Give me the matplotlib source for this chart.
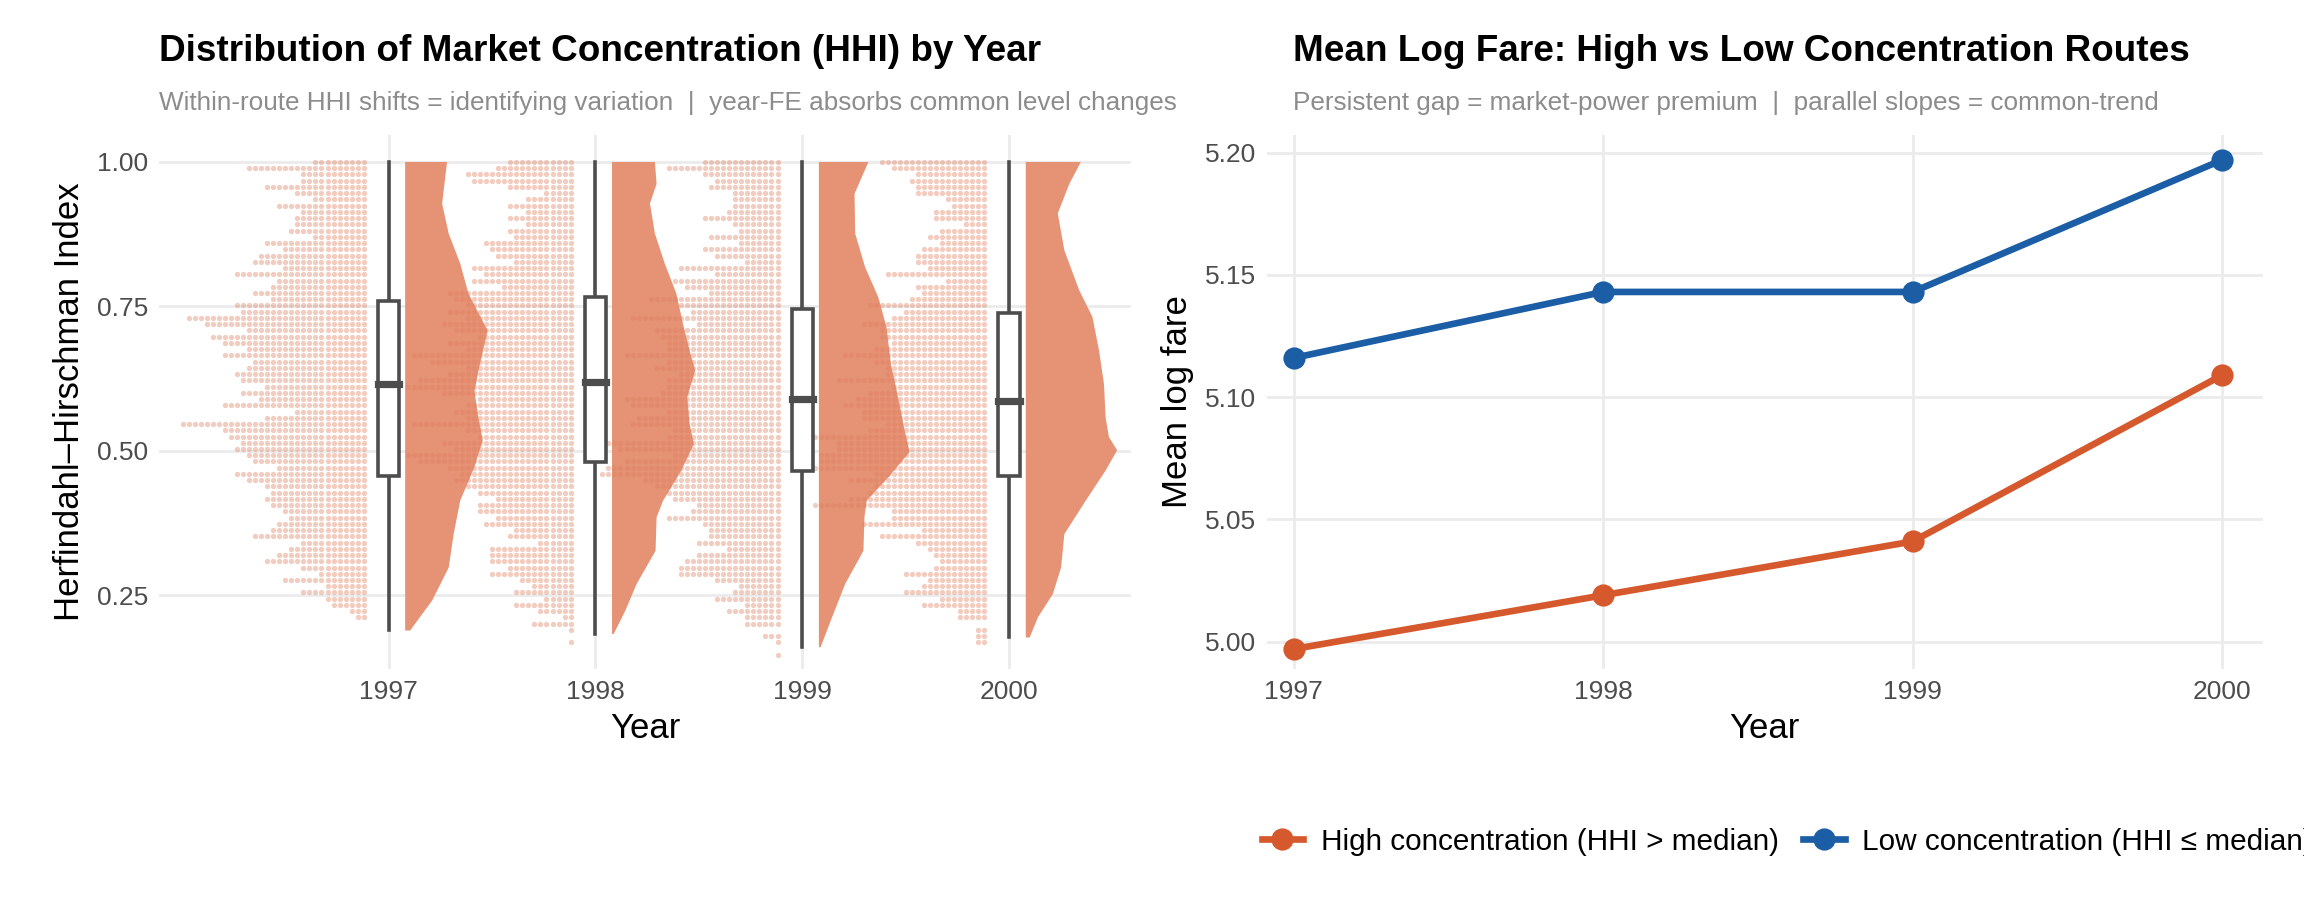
import numpy as np
import matplotlib.pyplot as plt

plt.rcParams['font.family'] = ['Liberation Sans', 'DejaVu Sans']

# -----------------------------------------------------------------------------
# data

years = [1997, 1998, 1999, 2000]

# dot counts per HHI row (rows start at 1.00 and step down by row_step)
row_step = 0.0108
dots_1997 = [9, 20, 11, 11, 17, 12, 9, 15, 11, 12, 12, 13, 9, 17, 14, 18, 19, 14, 22, 15,
             16, 19, 16, 22, 21, 30, 27, 20, 26, 24, 20, 24, 19, 20, 22, 21, 17, 21, 18, 24,
             12, 17, 31, 24, 23, 21, 22, 20, 19, 15, 22, 20, 17, 16, 17, 16, 14, 13, 15, 16,
             19, 11, 13, 15, 17, 11, 8, 14, 7, 11, 7, 6, 3, 2]
dots_1998 = [11, 13, 18, 17, 11, 5, 8, 11, 8, 11, 8, 11, 10, 15, 14, 13, 10, 17, 15, 17,
             12, 21, 20, 18, 21, 18, 22, 20, 16, 21, 18, 27, 24, 18, 21, 26, 28, 22, 16, 18,
             20, 18, 27, 18, 16, 22, 20, 28, 26, 21, 19, 20, 18, 16, 13, 16, 16, 13, 15, 10,
             11, 6, 14, 14, 14, 11, 14, 9, 7, 10, 5, 10, 6, 2, 7, 1, 0, 1]
dots_1999 = [13, 19, 13, 11, 12, 8, 8, 8, 9, 13, 8, 7, 12, 7, 13, 11, 6, 17, 11, 18,
             16, 12, 22, 17, 15, 25, 14, 21, 20, 19, 19, 26, 19, 21, 17, 19, 19, 20, 26, 25,
             19, 24, 25, 18, 19, 30, 27, 18, 26, 29, 30, 23, 21, 19, 18, 14, 15, 19, 13, 12,
             12, 14, 9, 14, 16, 17, 17, 11, 7, 8, 11, 6, 9, 6, 6, 0, 3, 1, 0, 1]
dots_2000 = [18, 16, 12, 13, 12, 12, 7, 6, 9, 9, 4, 8, 10, 8, 11, 12, 12, 10, 17, 7,
             12, 11, 13, 20, 14, 16, 21, 18, 18, 16, 19, 24, 19, 17, 17, 25, 16, 20, 22, 24,
             21, 21, 17, 20, 29, 25, 25, 28, 28, 29, 19, 23, 19, 20, 23, 29, 16, 16, 21, 11,
             18, 12, 10, 9, 8, 9, 14, 10, 11, 14, 8, 11, 5, 5, 0, 2, 2, 2]

# half-violin outlines: HHI value and relative density width
vio_y_1997 = [1.0, .928, .876, .824, .772, .708, .651, .604, .558, .518, .472, .414, .356, .298, .241, .189]
vio_w_1997 = [127, 112, 132, 167, 192, 250, 227, 210, 222, 235, 210, 167, 147, 132, 82, 15]
vio_y_1998 = [1.0, .962, .928, .876, .824, .772, .720, .674, .639, .593, .547, .512, .466, .414, .385, .327, .270, .223, .183]
vio_w_1998 = [130, 135, 115, 130, 160, 195, 215, 235, 252, 228, 235, 248, 210, 155, 135, 132, 75, 40, 5]
vio_y_1999 = [1.0, .945, .876, .818, .766, .714, .651, .593, .535, .498, .454, .414, .385, .327, .270, .212, .160]
vio_w_1999 = [150, 108, 110, 140, 180, 205, 218, 240, 260, 275, 210, 145, 138, 135, 80, 40, 5]
vio_y_2000 = [1.0, .962, .911, .847, .778, .732, .674, .616, .558, .524, .501, .466, .414, .356, .298, .252, .212, .177]
vio_w_2000 = [167, 132, 97, 117, 162, 202, 222, 237, 242, 252, 277, 242, 182, 117, 107, 82, 37, 12]

# boxplot stats: low whisker, q1, median, q3, high whisker
box_1997 = [0.190, 0.457, 0.615, 0.760, 1.0]
box_1998 = [0.183, 0.480, 0.620, 0.767, 1.0]
box_1999 = [0.160, 0.465, 0.590, 0.745, 1.0]
box_2000 = [0.177, 0.457, 0.587, 0.739, 1.0]

# mean log fare by concentration group
fare_high = [4.997, 5.019, 5.041, 5.109]
fare_low = [5.116, 5.143, 5.143, 5.197]

# -----------------------------------------------------------------------------

orange = '#D5592D'
blue = '#1B5EA6'
vio_col = '#E69275'
dot_col = '#E0805F'
grid_col = '#EBEBEB'
box_col = '#4D4D4D'
tick_col = '#4D4D4D'

fig = plt.figure(figsize=(11.52, 4.605), dpi=200)
ax1 = fig.add_axes([0.069, 0.274, 0.422, 0.579])
ax2 = fig.add_axes([0.550, 0.274, 0.432, 0.579])

for ax in (ax1, ax2):
    for s in ax.spines.values():
        s.set_visible(False)
    ax.tick_params(length=0, labelsize=9.5, labelcolor=tick_col, pad=4)
    ax.grid(True, color=grid_col, lw=1.0)
    ax.set_axisbelow(True)

# ---- left: raincloud -------------------------------------------------------

dots = [dots_1997, dots_1998, dots_1999, dots_2000]
vios = [(vio_y_1997, vio_w_1997), (vio_y_1998, vio_w_1998),
        (vio_y_1999, vio_w_1999), (vio_y_2000, vio_w_2000)]
boxes = [box_1997, box_1998, box_1999, box_2000]

for i in range(4):
    vy, vw = vios[i]
    vy = np.array(vy)
    vw = np.array(vw) / 627
    x0 = i + 0.08
    px = np.concatenate([[x0], x0 + vw, [x0]])
    py = np.concatenate([[vy[0]], vy, [vy[-1]]])
    ax1.fill(px, py, color=vio_col, lw=0, zorder=2)

dot_dx = 0.0292
for i in range(4):
    xs, ys = [], []
    for r, n in enumerate(dots[i]):
        for k in range(n):
            xs.append(i - 0.12 - k * dot_dx)
            ys.append(1.0 - r * row_step)
    ax1.scatter(xs, ys, s=3.6, color=dot_col, alpha=0.4, lw=0, zorder=3)

bw = 0.052
for i in range(4):
    lo, q1, med, q3, hi = boxes[i]
    ax1.plot([i, i], [lo, q1], color=box_col, lw=1.3, zorder=4)
    ax1.plot([i, i], [q3, hi], color=box_col, lw=1.3, zorder=4)
    ax1.fill([i - bw, i + bw, i + bw, i - bw], [q1, q1, q3, q3], facecolor='white',
             edgecolor=box_col, lw=1.3, zorder=4)
    ax1.plot([i - bw, i + bw], [med, med], color=box_col, lw=2.6, zorder=5)

ax1.set_xlim(-1.11, 3.59)
ax1.set_ylim(0.123, 1.046)
ax1.set_xticks(range(4))
ax1.set_xticklabels([str(y) for y in years])
ax1.set_yticks([0.25, 0.5, 0.75, 1.0])
ax1.set_yticklabels(['0.25', '0.50', '0.75', '1.00'])
ax1.set_xlabel('Year', fontsize=12.5, labelpad=3)
ax1.set_ylabel('Herfindahl\u2013Hirschman Index', fontsize=12.5)

# ---- right: mean log fare --------------------------------------------------

ax2.plot(years, fare_high, color=orange, lw=2.4, marker='o', ms=7, zorder=3,
         label='High concentration (HHI > median)')
ax2.plot(years, fare_low, color=blue, lw=2.4, marker='o', ms=7, zorder=3,
         label='Low concentration (HHI \u2264 median)')
ax2.set_xlim(1996.915, 2000.13)
ax2.set_ylim(4.989, 5.207)
ax2.set_xticks(years)
ax2.set_yticks([5.00, 5.05, 5.10, 5.15, 5.20])
ax2.set_yticklabels(['5.00', '5.05', '5.10', '5.15', '5.20'])
ax2.set_xlabel('Year', fontsize=12.5, labelpad=3)
ax2.set_ylabel('Mean log fare', fontsize=12.5)

# ---- titles / legend -------------------------------------------------------

fig.text(0.069, 0.944, 'Distribution of Market Concentration (HHI) by Year',
         fontsize=13.3, fontweight='bold', va='center')
fig.text(0.069, 0.888, 'Within-route HHI shifts = identifying variation  |  year-FE absorbs common level changes',
         fontsize=9.4, color='#8C8C8C', va='center')
fig.text(0.561, 0.944, 'Mean Log Fare: High vs Low Concentration Routes',
         fontsize=13.3, fontweight='bold', va='center')
fig.text(0.561, 0.888, 'Persistent gap = market-power premium  |  parallel slopes = common-trend',
         fontsize=9.4, color='#8C8C8C', va='center')

fig.legend(loc='center left', bbox_to_anchor=(0.536, 0.086), ncol=2, frameon=False,
           fontsize=10.7, handlelength=1.4, columnspacing=0.8, handletextpad=0.6)

fig.savefig('out.png', dpi=200)
